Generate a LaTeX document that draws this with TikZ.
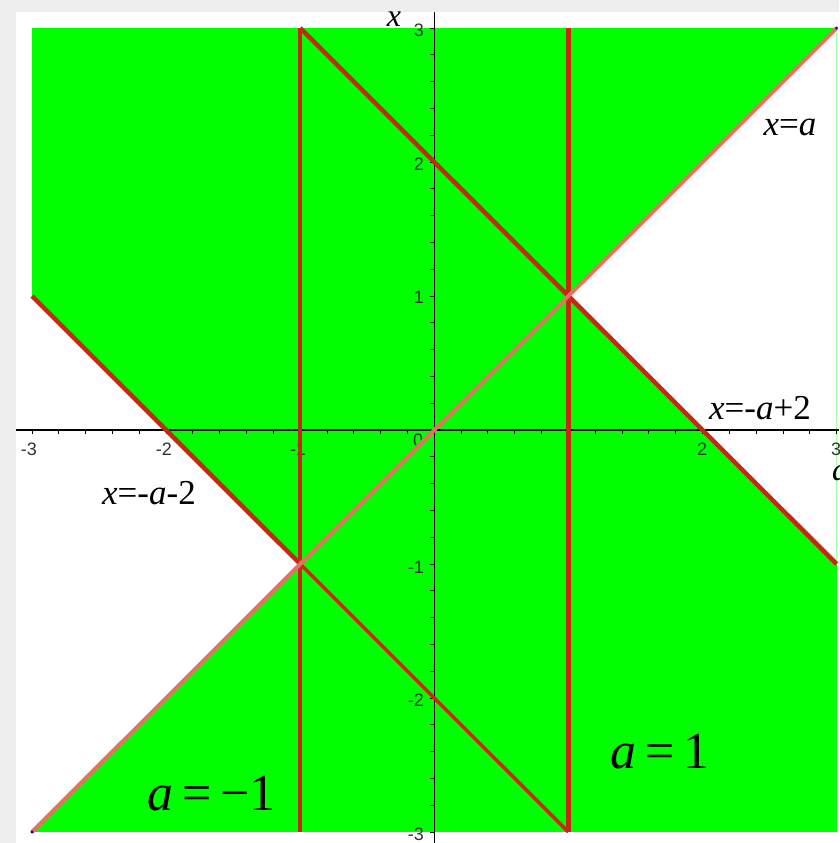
\documentclass[tikz,border=0pt]{standalone}
\usepackage{fontspec}
\setmainfont{Liberation Serif}
\newfontfamily\tickfont{Liberation Sans}
\definecolor{plotgreen}{RGB}{0,255,0}
\definecolor{redline}{RGB}{196,42,16}
\definecolor{salmonline}{RGB}{230,112,98}
\definecolor{bggray}{RGB}{238,238,238}
\definecolor{ticktext}{RGB}{50,50,50}
\tikzset{
  redthick/.style={draw=redline, line width=4.5pt},
  redthin/.style={draw=redline, line width=3.4pt},
  diagline/.style={draw=salmonline, line width=4pt},
  axisline/.style={draw=black, line width=1.2pt},
  tickmark/.style={draw=black, line width=0.9pt},
  ticklab/.style={font=\tickfont\fontsize{18}{18}\selectfont, text=ticktext, inner sep=0pt},
  curvelab/.style={font=\fontsize{35}{35}\selectfont, inner sep=0pt, anchor=base},
  biglab/.style={font=\fontsize{52}{52}\selectfont, inner sep=0pt, anchor=base},
}
\begin{document}
\begin{tikzpicture}[x=1pt,y=1pt]
\useasboundingbox (0,0) rectangle (839,-843);
\fill[bggray] (0,0) rectangle (839,-843);
\fill[white] (16,-12) rectangle (839,-843);
\begin{scope}[shift={(434.3pt,-430pt)}, x=134.1pt, y=134pt]
  \coordinate (m3m3) at (-3,-3);
  \coordinate (p3p3) at (3,3);
  \coordinate (m3p1) at (-3,1);
  \coordinate (m1m1) at (-1,-1);
  \coordinate (p1p1) at (1,1);
  \coordinate (p3m1) at (3,-1);
  \coordinate (m1p3) at (-1,3);
  \coordinate (m1m3) at (-1,-3);
  \coordinate (p1p3) at (1,3);
  \coordinate (p1m3) at (1,-3);
  % region
  \fill[plotgreen] (m3m3) rectangle (p3p3);
  \fill[white] (m3p1) -- (m1m1) -- (m3m3) -- cycle;
  \fill[white] (p3p3) -- (p1p1) -- (p3m1) -- cycle;
\end{scope}
% axes
\coordinate (yaxtop) at (434.3,-12);
\coordinate (yaxbot) at (434.3,-843);
\coordinate (xaxl) at (16,-430);
\coordinate (xaxr) at (839,-430);
\draw[axisline] (yaxtop) -- (yaxbot);
\draw[axisline] (xaxl) -- (xaxr);
\begin{scope}[shift={(434.3pt,-430pt)}, x=134.1pt, y=134pt]
  \foreach \i in {-15,...,15} {
    \draw[tickmark] (\i/5,0) -- ++(0,-4pt);
    \draw[tickmark] (0,\i/5) -- ++(-4pt,0);
  }
\end{scope}
% tick labels
\node[ticklab] (ta1) at (29,-449) {-3};
\node[ticklab] (ta2) at (164,-449) {-2};
\node[ticklab] (ta3) at (298,-449) {-1};
\node[ticklab] (ta4) at (418,-440) {0};
\node[ticklab] (ta5) at (702,-449) {2};
\node[ticklab, anchor=west] (ta6) at (831,-449) {3};
\node[ticklab, anchor=east] (tx1) at (424,-30) {3};
\node[ticklab, anchor=east] (tx2) at (424,-164) {2};
\node[ticklab, anchor=east] (tx3) at (424,-297) {1};
\node[ticklab, anchor=east] (tx4) at (424,-567) {-1};
\node[ticklab, anchor=east] (tx5) at (424,-700) {-2};
\node[ticklab, anchor=east] (tx6) at (424,-834) {-3};
% curves
\begin{scope}[shift={(434.3pt,-430pt)}, x=134.1pt, y=134pt]
  \draw[redthick] (m1p3) -- (m1m3);
  \draw[redthick] (p1p3) -- (p1m3);
  \draw[redthick] (m1p3) -- (p3m1);
  \draw[redthick] (m3p1) -- (m1m1);
  \draw[redthin] (m1m1) -- (p1m3);
  \draw[diagline] (m3m3) -- (p3p3);
  \fill[blue!60!black] (m3m3) circle (1.6pt);
  \fill[blue!60!black] (p3p3) circle (1.6pt);
\end{scope}
% axis labels
\node[curvelab, font=\fontsize{32}{32}\selectfont\itshape] (xlab) at (394,-27) {x};
\node[curvelab, anchor=base west, font=\fontsize{32}{32}\selectfont\itshape] (alab) at (832,-480) {a};
% curve labels
\node[curvelab] (lxa) at (790,-135) {\textit{x}=\textit{a}};
\node[curvelab] (lxr) at (760,-419) {\textit{x}=-\textit{a}+2};
\node[curvelab] (lxl) at (149,-504) {\textit{x}=-\textit{a}-2};
\node[biglab] (lam1) at (211.5,-810) {\textit{a}\hspace{0.17em}=\hspace{0.17em}−1};
\node[biglab] (la1) at (660,-768) {\textit{a}\hspace{0.17em}=\hspace{0.17em}1};
\end{tikzpicture}
\end{document}
